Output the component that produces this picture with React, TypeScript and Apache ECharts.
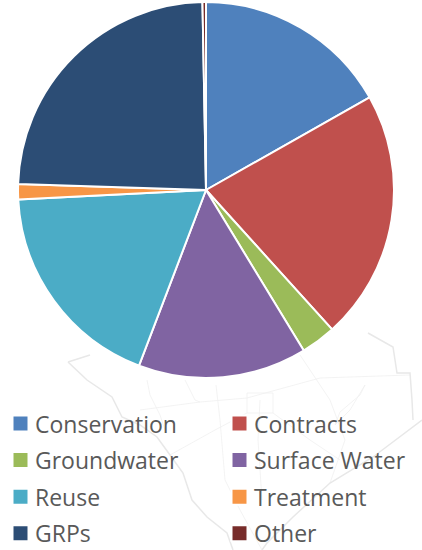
import React, { useEffect, useRef } from "react";
import * as echarts from "echarts";

const categories = ["Conservation", "Contracts", "Groundwater", "Surface Water", "Reuse", "Treatment", "GRPs", "Other"];
const values = [16.8, 21.5, 3.0, 14.5, 18.4, 1.3, 24.2, 0.3];
const colors = ["#4f81bd", "#c0504d", "#9bbb59", "#8064a2", "#4bacc6", "#f79646", "#2c4d75", "#772c2a"];
const leftLegend = ["Conservation", "Groundwater", "Reuse", "GRPs"];
const rightLegend = ["Contracts", "Surface Water", "Treatment", "Other"];

const mapOutline: number[][][] = [
  [[68, 362], [87, 380], [112, 397], [122, 417], [140, 425], [157, 437], [170, 455], [183, 473], [192, 500], [207, 517], [227, 533], [233, 550]],
  [[368, 333], [393, 347], [397, 373], [410, 373], [412, 400], [413, 420]],
  [[422, 420], [373, 457], [330, 483], [293, 517], [267, 543], [262, 550]],
  [[68, 362], [90, 355]],
];
const mapRoads: number[][][] = [
  [[320, 378], [410, 375]],
  [[140, 410], [200, 402], [247, 398], [320, 378]],
  [[247, 393], [273, 393], [273, 413], [247, 413], [247, 393]],
  [[147, 380], [150, 395], [160, 415], [165, 430]],
  [[185, 380], [195, 400], [200, 402]],
  [[216, 385], [220, 420], [225, 480], [240, 510], [262, 550]],
  [[260, 400], [258, 440], [262, 500]],
  [[300, 355], [330, 400], [345, 440], [330, 483]],
  [[273, 413], [310, 440], [340, 460]],
  [[340, 412], [360, 395], [365, 385], [350, 410], [335, 425], [340, 412]],
  [[170, 455], [215, 430], [247, 413]],
];

export default function App() {
  const ref = useRef<HTMLDivElement>(null);
  useEffect(() => {
    const chart = echarts.init(ref.current!, undefined, { renderer: "svg" });
    const legendBase = {
      orient: "vertical" as const,
      top: 412,
      itemWidth: 16,
      itemHeight: 16,
      itemGap: 13.6,
      icon: "rect",
      padding: 0,
      textStyle: { fontFamily: "Open Sans", fontSize: 23, color: "#595959", padding: [0, 0, 0, 1.5], height: 23, lineHeight: 23 },
    };
    const lines = (set: number[][][], stroke: string, lineWidth: number) =>
      set.map((points) => ({
        type: "polyline",
        silent: true,
        z: -1,
        shape: { points },
        style: { stroke, lineWidth, fill: "none" },
      }));
    chart.setOption({
      animation: false,
      color: colors,
      graphic: [...lines(mapRoads, "#f0f0f0", 0.8), ...lines(mapOutline, "#e8e8e8", 1.5)],
      legend: [
        { ...legendBase, left: 11.5, data: leftLegend },
        { ...legendBase, left: 230.5, data: rightLegend },
      ],
      series: [
        {
          type: "pie",
          center: [206, 190],
          radius: [0, 188],
          startAngle: 90,
          clockwise: true,
          label: { show: false },
          labelLine: { show: false },
          itemStyle: { borderColor: "#fff", borderWidth: 2 },
          data: categories.map((name, i) => ({ name, value: values[i] })),
        },
      ],
    });
    return () => chart.dispose();
  }, []);
  return <div ref={ref} style={{ position: "absolute", left: 0, top: 0, width: 422, height: 550, background: "#fff" }} />;
}
